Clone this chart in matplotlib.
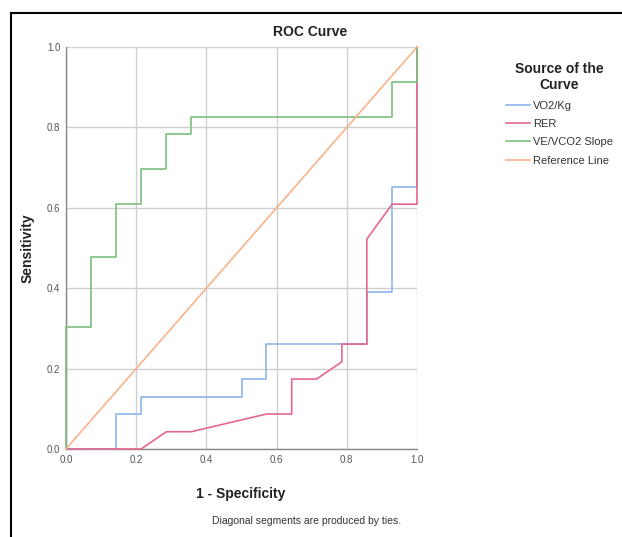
import matplotlib
matplotlib.use("Agg")
import matplotlib.pyplot as plt
from matplotlib.lines import Line2D

plt.rcParams['font.family'] = ['Liberation Sans', 'DejaVu Sans']

# ROC curve points (1 - specificity, sensitivity)
vo2_fpr = [0, 0.143, 0.143, 0.214, 0.214, 0.5, 0.5, 0.571, 0.571, 0.857, 0.857, 0.929, 0.929, 1, 1]
vo2_tpr = [0, 0, 0.087, 0.087, 0.130, 0.130, 0.174, 0.174, 0.261, 0.261, 0.391, 0.391, 0.652, 0.652, 1]

rer_fpr = [0, 0.214, 0.286, 0.357, 0.571, 0.643, 0.643, 0.714, 0.786, 0.786, 0.857, 0.857, 0.929, 1, 1, 1]
rer_tpr = [0, 0, 0.043, 0.043, 0.087, 0.087, 0.174, 0.174, 0.217, 0.261, 0.261, 0.522, 0.609, 0.609, 0.913, 1]

ve_fpr = [0, 0, 0.071, 0.071, 0.143, 0.143, 0.214, 0.214, 0.286, 0.286, 0.357, 0.357, 0.929, 0.929, 1, 1]
ve_tpr = [0, 0.304, 0.304, 0.478, 0.478, 0.609, 0.609, 0.696, 0.696, 0.783, 0.783, 0.826, 0.826, 0.913, 0.913, 1]

ref_x = [0, 1]
ref_y = [0, 1]

labels = ["VO2/Kg", "RER", "VE/VCO2 Slope", "Reference Line"]
colors = ["#8db5ee", "#e4688e", "#7dbf7d", "#f8b38a"]
ticks = [0.0, 0.2, 0.4, 0.6, 0.8, 1.0]

fig = plt.figure(figsize=(6.22, 5.37), dpi=100)
ax = fig.add_axes([66/622, 1-449/537, 351/622, 402/537])

series = [(vo2_fpr, vo2_tpr), (rer_fpr, rer_tpr), (ve_fpr, ve_tpr), (ref_x, ref_y)]
for (x, y), lab, c in zip(series, labels, colors):
    ax.plot(x, y, color=c, lw=1.2, label=lab, clip_on=False, zorder=3)

ax.set_xlim(0, 1)
ax.set_ylim(0, 1)
ax.set_xticks(ticks)
ax.set_yticks(ticks)
ax.set_xticklabels([f"{t:.1f}" for t in ticks])
ax.set_yticklabels([f"{t:.1f}" for t in ticks])
ax.tick_params(length=0, labelsize=7, colors="#555555", pad=4)
ax.grid(True, color="#cfcfcf", lw=1)
for s in ["top", "right"]:
    ax.spines[s].set_visible(False)
for s in ["left", "bottom"]:
    ax.spines[s].set_color("#888888")
    ax.spines[s].set_linewidth(1)

fig.text(310/622, 1-32/537, "ROC Curve", ha="center", va="center",
         fontsize=10, fontweight="bold", color="#222222")
fig.text(28/622, 1-248/537, "Sensitivity", ha="center", va="center",
         rotation=90, fontsize=10, fontweight="bold", color="#222222")
fig.text(241/622, 1-494/537, "1 - Specificity", ha="center", va="center",
         fontsize=10, fontweight="bold", color="#222222")
fig.text(307/622, 1-521/537, "Diagonal segments are produced by ties.",
         ha="center", va="center", fontsize=7.5, color="#333333")

leg = ax.legend(loc="upper left", bbox_to_anchor=(496/622, 1-52/537),
                bbox_transform=fig.transFigure, frameon=False,
                title="Source of the\nCurve", fontsize=8, alignment="center",
                handlelength=2.2, handletextpad=0.2, labelspacing=0.75)
leg.get_title().set_fontweight("bold")
leg.get_title().set_fontsize(10)
leg.get_title().set_color("#222222")
leg.get_title().set_multialignment("center")
for t in leg.get_texts():
    t.set_color("#333333")

# black frame on top and left edge
fig.add_artist(Line2D([11/622, 1], [1-13/537, 1-13/537], color="black", lw=1.5))
fig.add_artist(Line2D([11/622, 11/622], [0, 1-13/537], color="black", lw=1.5))

fig.savefig("out.png", dpi=100)
